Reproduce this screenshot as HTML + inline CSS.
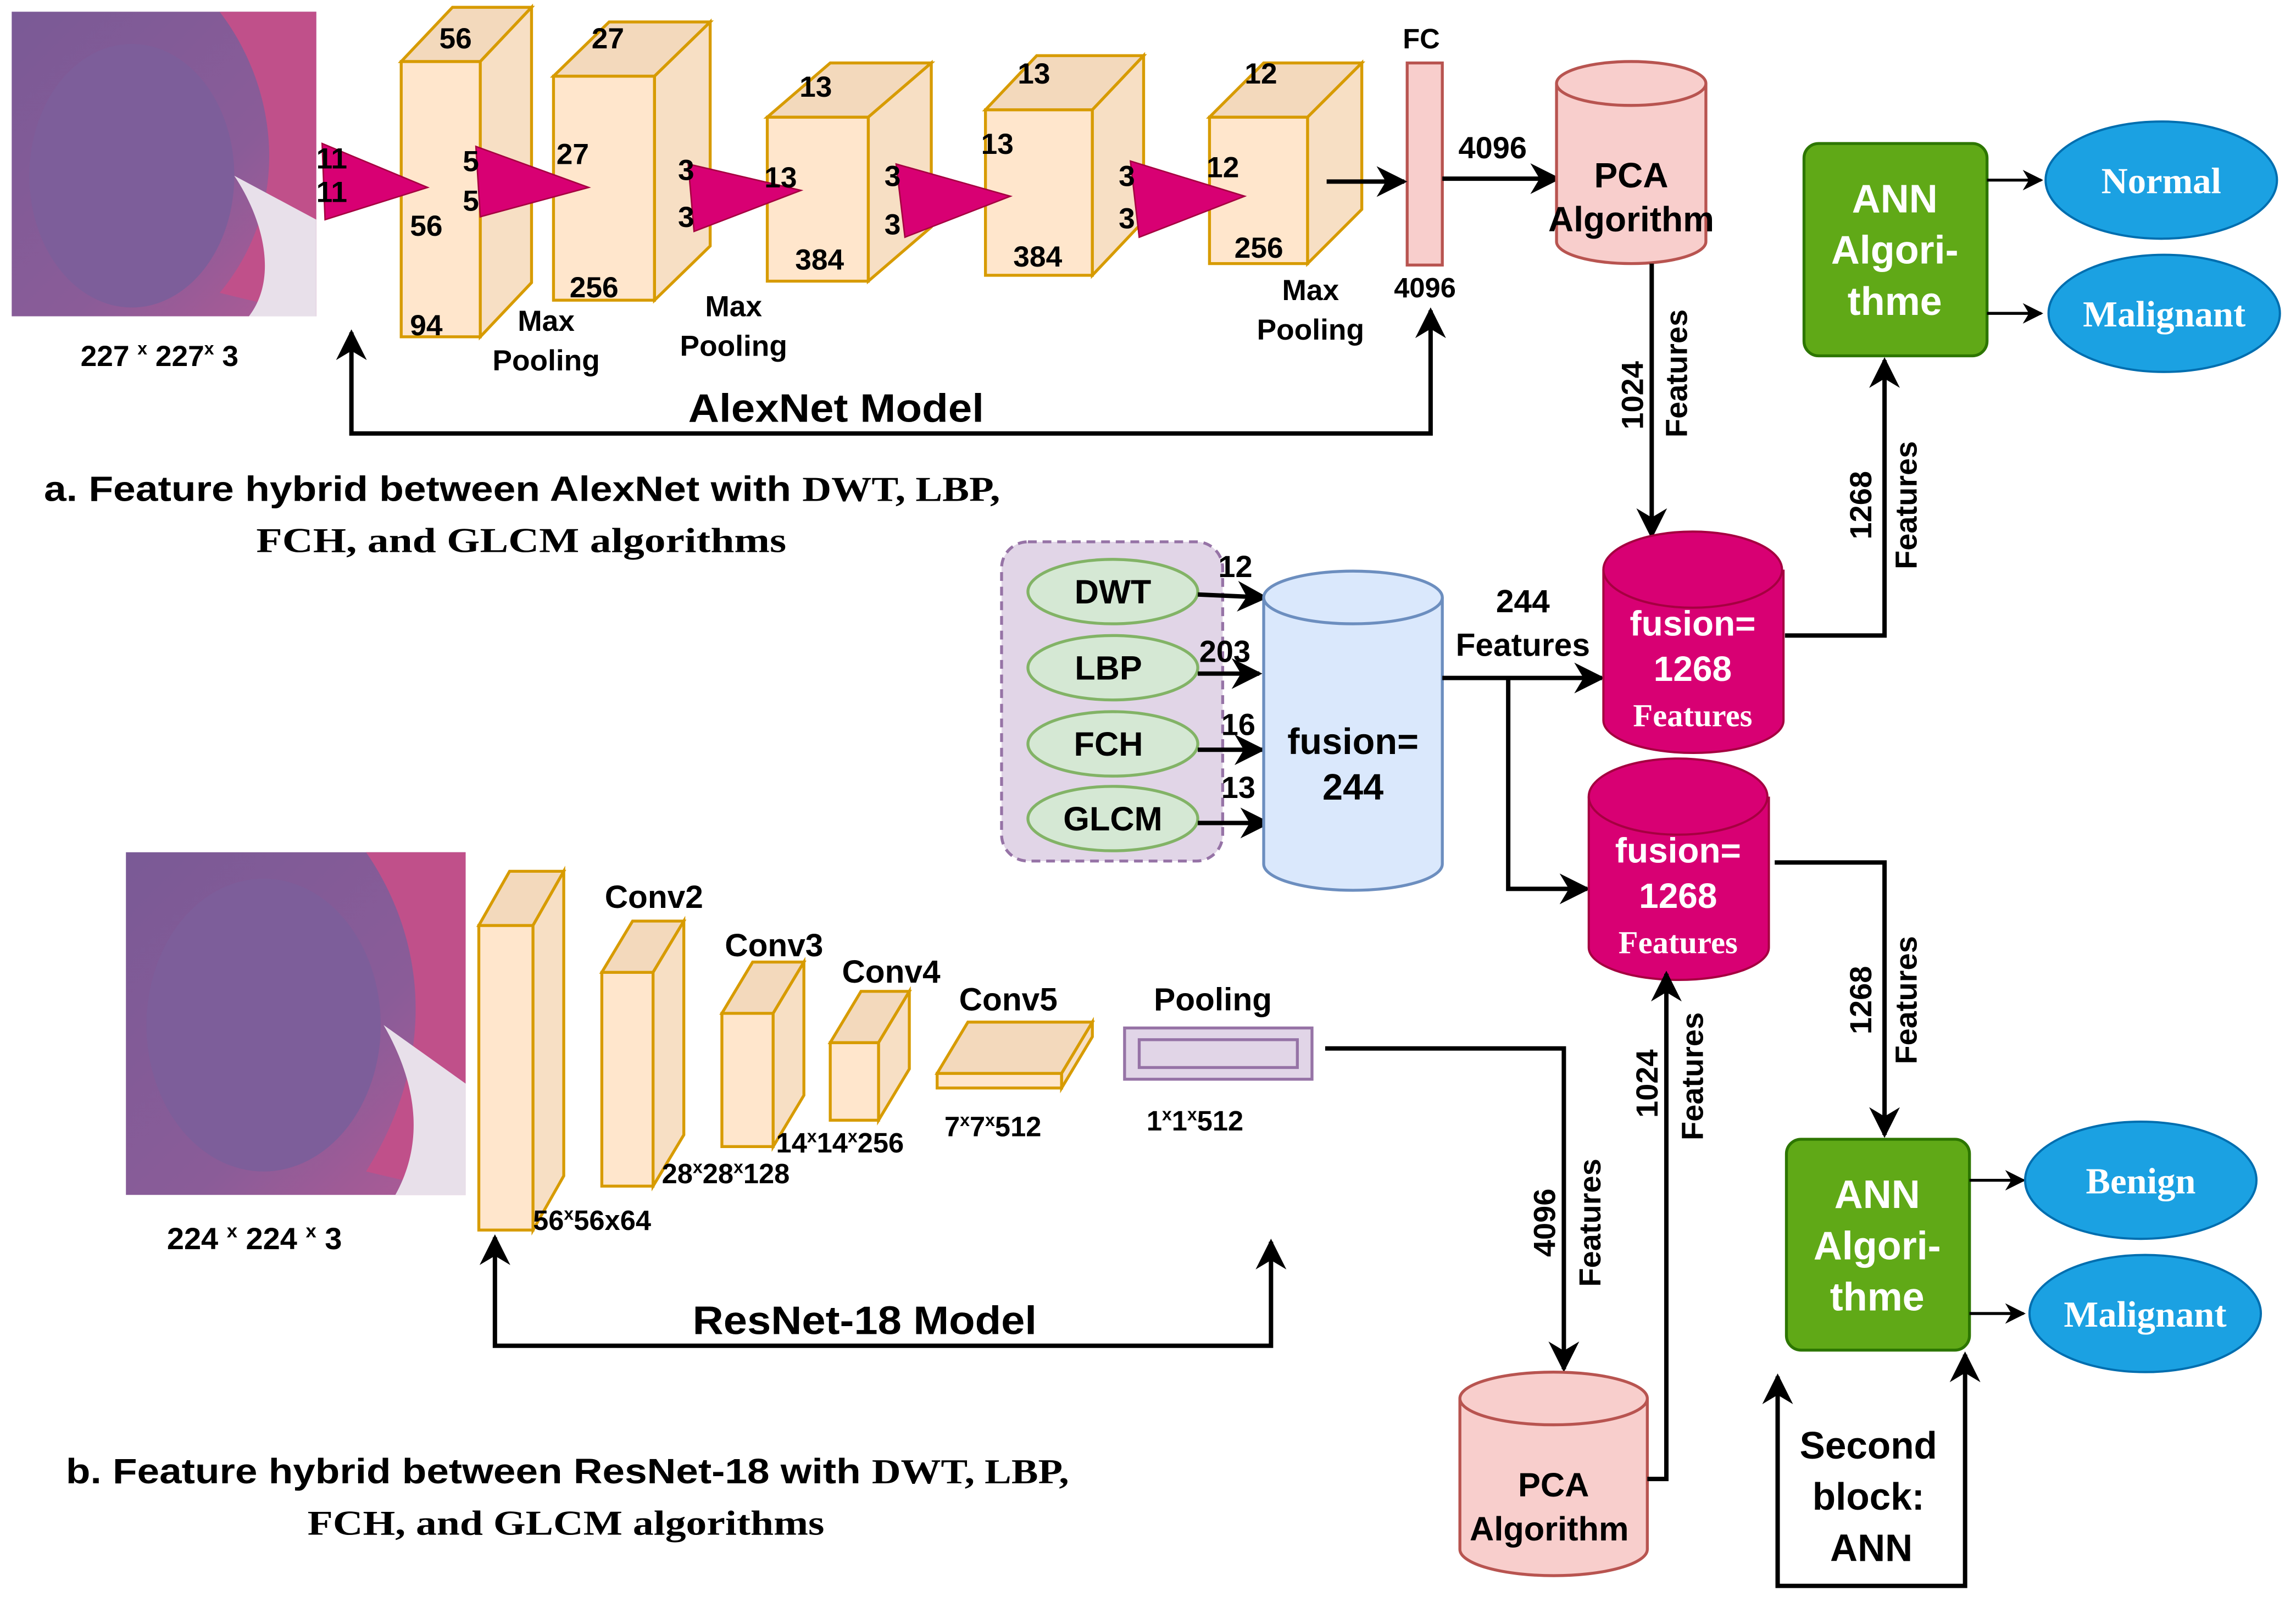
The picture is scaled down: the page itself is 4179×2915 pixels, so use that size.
<!DOCTYPE html>
<html><head><meta charset="utf-8"><style>
html,body{margin:0;padding:0;background:#fff;}
svg{display:block;}
text{font-family:"Liberation Sans",sans-serif;font-weight:bold;}
.s{font-family:"Liberation Serif",serif;}
</style></head><body>
<svg width="4179" height="2915" viewBox="0 0 1568 1094" preserveAspectRatio="none" xmlns="http://www.w3.org/2000/svg">
<defs>
<marker id="a" viewBox="0 0 10 10" refX="9" refY="5" markerWidth="7" markerHeight="7" orient="auto-start-reverse"><path d="M0,0 L10,5 L0,10 L3,5 Z" fill="#000"/></marker>
<linearGradient id="tis" x1="0" y1="0" x2="1" y2="1">
<stop offset="0" stop-color="#7a5a96"/><stop offset="0.6" stop-color="#8a5c98"/><stop offset="1" stop-color="#b25a95"/></linearGradient>
</defs>
<rect width="1568" height="1094" fill="#fff"/>

<!-- tissue image 1 -->
<g>
<rect x="8" y="8" width="208" height="208" fill="url(#tis)"/>
<path d="M150,8 C190,60 200,140 150,200 L216,216 L216,8 Z" fill="#c0508a"/>
<path d="M160,120 C180,150 190,190 170,216 L216,216 L216,150 Z" fill="#e8e0ea"/>
<ellipse cx="90" cy="120" rx="70" ry="90" fill="#7d5e9a"/>
</g>
<text x="55" y="250" font-size="20">227 <tspan font-size="12" dy="-8">x</tspan><tspan dy="8"> 227</tspan><tspan font-size="12" dy="-8">x</tspan><tspan dy="8"> 3</tspan></text>

<!-- alexnet boxes -->
<g fill="#ffe6cc" stroke="#d79b00" stroke-width="2">
<rect x="274" y="42" width="54" height="188"/><path d="M274,42 L309,5 L363,5 L328,42Z" fill="#f3d9bc"/><path d="M328,42 L363,5 L363,193 L328,230Z" fill="#f7dfc4"/>
<rect x="378" y="52" width="69" height="153"/><path d="M378,52 L416,15 L485,15 L447,52Z" fill="#f3d9bc"/><path d="M447,52 L485,15 L485,168 L447,205Z" fill="#f7dfc4"/>
<rect x="524" y="80" width="69" height="112"/><path d="M524,80 L567,43 L636,43 L593,80Z" fill="#f3d9bc"/><path d="M593,80 L636,43 L636,155 L593,192Z" fill="#f7dfc4"/>
<rect x="673" y="75" width="73" height="113"/><path d="M673,75 L708,38 L781,38 L746,75Z" fill="#f3d9bc"/><path d="M746,75 L781,38 L781,151 L746,188Z" fill="#f7dfc4"/>
<rect x="826" y="80" width="67" height="100"/><path d="M826,80 L863,43 L930,43 L893,80Z" fill="#f3d9bc"/><path d="M893,80 L930,43 L930,143 L893,180Z" fill="#f7dfc4"/>
</g>
<g fill="#d80073" stroke="#a50040" stroke-width="1">
<path d="M220,98 L222,150 L292,128Z"/><path d="M325,100 L328,148 L402,128Z"/><path d="M470,112 L474,158 L547,130Z"/><path d="M612,112 L618,162 L690,134Z"/><path d="M772,110 L778,162 L850,134Z"/>
</g>
<g font-size="20">
<text x="300" y="33">56</text><text x="404" y="33">27</text><text x="546" y="66">13</text><text x="695" y="57">13</text><text x="850" y="57">12</text>
<text x="216" y="115">11</text><text x="216" y="138">11</text><text x="316" y="117">5</text><text x="316" y="144">5</text>
<text x="380" y="112">27</text><text x="463" y="123">3</text><text x="463" y="155">3</text><text x="522" y="128">13</text>
<text x="604" y="127">3</text><text x="604" y="160">3</text><text x="670" y="105">13</text><text x="764" y="127">3</text><text x="764" y="156">3</text><text x="824" y="121">12</text>
<text x="280" y="161">56</text><text x="280" y="229">94</text><text x="389" y="203">256</text><text x="543" y="184">384</text><text x="692" y="182">384</text><text x="843" y="176">256</text>
</g>
<g font-size="20" text-anchor="middle">
<text x="373" y="226">Max</text><text x="373" y="253">Pooling</text>
<text x="501" y="216">Max</text><text x="501" y="243">Pooling</text>
<text x="895" y="205">Max</text><text x="895" y="232">Pooling</text>
</g>
<rect x="961" y="43" width="24" height="138" fill="#f8cecc" stroke="#b85450" stroke-width="2"/>
<text x="958" y="33" font-size="19">FC</text>
<text x="952" y="203" font-size="19">4096</text>
<line x1="906" y1="124" x2="959" y2="124" stroke="#000" stroke-width="3" marker-end="url(#a)"/>
<line x1="985" y1="122" x2="1064" y2="122" stroke="#000" stroke-width="3" marker-end="url(#a)"/>
<text x="996" y="108" font-size="21">4096</text>
<path d="M240,227 L240,296 L977,296 L977,212" fill="none" stroke="#000" stroke-width="3" marker-start="url(#a)" marker-end="url(#a)"/>
<text x="470" y="288" font-size="27" textLength="202" lengthAdjust="spacingAndGlyphs">AlexNet Model</text>
<text x="30" y="342" font-size="24" textLength="653" lengthAdjust="spacingAndGlyphs">a. Feature hybrid between AlexNet with <tspan class="s">DWT, LBP,</tspan></text>
<text x="175" y="377" font-size="24" class="s" textLength="362" lengthAdjust="spacingAndGlyphs">FCH, and GLCM  algorithms</text>

<!-- PCA top -->
<path d="M1063,57 L1063,165 A51,15 0 0 0 1165,165 L1165,57" fill="#f8cecc" stroke="#b85450" stroke-width="2"/>
<ellipse cx="1114" cy="57" rx="51" ry="15" fill="#f8cecc" stroke="#b85450" stroke-width="2"/>
<text x="1114" y="128" font-size="24" text-anchor="middle">PCA</text>
<text x="1114" y="158" font-size="24" text-anchor="middle">Algorithm</text>
<line x1="1128" y1="180" x2="1128" y2="366" stroke="#000" stroke-width="3" marker-end="url(#a)"/>
<text font-size="21" transform="translate(1122,270) rotate(-90)" text-anchor="middle">1024</text>
<text font-size="21" transform="translate(1152,255) rotate(-90)" text-anchor="middle">Features</text>

<!-- ANN top -->
<rect x="1232" y="98" width="125" height="145" rx="10" fill="#60a917" stroke="#2d7600" stroke-width="2"/>
<g fill="#fff" font-size="27" text-anchor="middle"><text x="1294" y="145">ANN</text><text x="1294" y="180">Algori-</text><text x="1294" y="215">thme</text></g>
<line x1="1357" y1="123" x2="1394" y2="123" stroke="#000" stroke-width="2" marker-end="url(#a)"/>
<line x1="1357" y1="214" x2="1394" y2="214" stroke="#000" stroke-width="2" marker-end="url(#a)"/>
<ellipse cx="1476" cy="123" rx="79" ry="40" fill="#1ba1e2" stroke="#006eaf" stroke-width="1.5"/>
<ellipse cx="1478" cy="214" rx="79" ry="40" fill="#1ba1e2" stroke="#006eaf" stroke-width="1.5"/>
<text x="1476" y="132" font-size="25" fill="#fff" class="s" text-anchor="middle">Normal</text>
<text x="1478" y="223" font-size="25" fill="#fff" class="s" text-anchor="middle">Malignant</text>
<path d="M1219,434 L1287,434 L1287,246" fill="none" stroke="#000" stroke-width="3" marker-end="url(#a)"/>
<text font-size="21" transform="translate(1278,345) rotate(-90)" text-anchor="middle">1268</text>
<text font-size="21" transform="translate(1309,345) rotate(-90)" text-anchor="middle">Features</text>

<!-- group -->
<rect x="684" y="370" width="151" height="218" rx="18" fill="#e1d5e7" stroke="#9673a6" stroke-width="2" stroke-dasharray="6,4"/>
<g fill="#d5e8d4" stroke="#82b366" stroke-width="2">
<ellipse cx="760" cy="404" rx="58" ry="22"/><ellipse cx="760" cy="456" rx="58" ry="22"/><ellipse cx="760" cy="508" rx="58" ry="22"/><ellipse cx="760" cy="559" rx="58" ry="22"/>
</g>
<g font-size="23" text-anchor="middle"><text x="760" y="412">DWT</text><text x="757" y="464">LBP</text><text x="757" y="516">FCH</text><text x="760" y="567">GLCM</text></g>
<g stroke="#000" stroke-width="3">
<line x1="818" y1="406" x2="864" y2="408" marker-end="url(#a)"/><line x1="818" y1="460" x2="860" y2="460" marker-end="url(#a)"/>
<line x1="818" y1="512" x2="862" y2="512" marker-end="url(#a)"/><line x1="818" y1="562" x2="866" y2="562" marker-end="url(#a)"/>
</g>
<g font-size="21"><text x="832" y="394">12</text><text x="819" y="452">203</text><text x="834" y="502">16</text><text x="834" y="545">13</text></g>
<!-- blue cylinder -->
<path d="M863,408 L863,590 A61,18 0 0 0 985,590 L985,408" fill="#dae8fc" stroke="#6c8ebf" stroke-width="2"/>
<ellipse cx="924" cy="408" rx="61" ry="18" fill="#dae8fc" stroke="#6c8ebf" stroke-width="2"/>
<text x="924" y="515" font-size="25" text-anchor="middle">fusion=</text><text x="924" y="546" font-size="25" text-anchor="middle">244</text>
<line x1="985" y1="463" x2="1094" y2="463" stroke="#000" stroke-width="3" marker-end="url(#a)"/>
<path d="M1030,463 L1030,607 L1084,607" fill="none" stroke="#000" stroke-width="3" marker-end="url(#a)"/>
<text x="1040" y="418" font-size="22" text-anchor="middle">244</text>
<text x="1040" y="448" font-size="22" text-anchor="middle">Features</text>
<!-- fusion cylinders -->
<path d="M1095,389 L1095,492 A61,22 0 0 0 1218,492 L1218,389" fill="#d80073" stroke="#a50040" stroke-width="1.5"/>
<ellipse cx="1156" cy="389" rx="61" ry="26" fill="#d80073" stroke="#a50040" stroke-width="1.5"/>
<g fill="#fff" text-anchor="middle"><text x="1156" y="434" font-size="24">fusion=</text><text x="1156" y="465" font-size="24">1268</text><text x="1156" y="496" font-size="22" class="s">Features</text></g>
<path d="M1085,544 L1085,647 A61,22 0 0 0 1208,647 L1208,544" fill="#d80073" stroke="#a50040" stroke-width="1.5"/>
<ellipse cx="1146" cy="544" rx="61" ry="26" fill="#d80073" stroke="#a50040" stroke-width="1.5"/>
<g fill="#fff" text-anchor="middle"><text x="1146" y="589" font-size="24">fusion=</text><text x="1146" y="620" font-size="24">1268</text><text x="1146" y="651" font-size="22" class="s">Features</text></g>
<path d="M1212,589 L1287,589 L1287,775" fill="none" stroke="#000" stroke-width="3" marker-end="url(#a)"/>
<text font-size="21" transform="translate(1278,683) rotate(-90)" text-anchor="middle">1268</text>
<text font-size="21" transform="translate(1309,683) rotate(-90)" text-anchor="middle">Features</text>

<!-- ANN bottom -->
<rect x="1220" y="778" width="125" height="144" rx="10" fill="#60a917" stroke="#2d7600" stroke-width="2"/>
<g fill="#fff" font-size="27" text-anchor="middle"><text x="1282" y="825">ANN</text><text x="1282" y="860">Algori-</text><text x="1282" y="895">thme</text></g>
<line x1="1345" y1="806" x2="1382" y2="806" stroke="#000" stroke-width="2" marker-end="url(#a)"/>
<line x1="1345" y1="897" x2="1382" y2="897" stroke="#000" stroke-width="2" marker-end="url(#a)"/>
<ellipse cx="1462" cy="806" rx="79" ry="40" fill="#1ba1e2" stroke="#006eaf" stroke-width="1.5"/>
<ellipse cx="1465" cy="897" rx="79" ry="40" fill="#1ba1e2" stroke="#006eaf" stroke-width="1.5"/>
<text x="1462" y="815" font-size="25" fill="#fff" class="s" text-anchor="middle">Benign</text>
<text x="1465" y="906" font-size="25" fill="#fff" class="s" text-anchor="middle">Malignant</text>
<path d="M1214,940 L1214,1083 L1342,1083 L1342,925" fill="none" stroke="#000" stroke-width="3" marker-start="url(#a)" marker-end="url(#a)"/>
<g font-size="26" text-anchor="middle"><text x="1276" y="996">Second</text><text x="1276" y="1031">block:</text><text x="1278" y="1066">ANN</text></g>

<!-- resnet -->
<g>
<rect x="86" y="582" width="232" height="234" fill="url(#tis)"/>
<path d="M250,582 C290,640 300,720 250,800 L318,816 L318,582 Z" fill="#c0508a"/>
<path d="M262,700 C285,740 290,780 270,816 L318,816 L318,740 Z" fill="#e8e0ea"/>
<ellipse cx="180" cy="700" rx="80" ry="100" fill="#7d5e9a"/>
</g>
<text x="114" y="853" font-size="21">224 <tspan font-size="13" dy="-8">x</tspan><tspan dy="8"> 224 </tspan><tspan font-size="13" dy="-8">x</tspan><tspan dy="8"> 3</tspan></text>
<g fill="#ffe6cc" stroke="#d79b00" stroke-width="2">
<rect x="327" y="632" width="37" height="208"/><path d="M327,632 L348,595 L385,595 L364,632Z" fill="#f3d9bc"/><path d="M364,632 L385,595 L385,803 L364,840Z" fill="#f7dfc4"/>
<rect x="411" y="664" width="35" height="146"/><path d="M411,664 L432,629 L467,629 L446,664Z" fill="#f3d9bc"/><path d="M446,664 L467,629 L467,775 L446,810Z" fill="#f7dfc4"/>
<rect x="493" y="692" width="35" height="91"/><path d="M493,692 L514,657 L549,657 L528,692Z" fill="#f3d9bc"/><path d="M528,692 L549,657 L549,748 L528,783Z" fill="#f7dfc4"/>
<rect x="567" y="712" width="33" height="53"/><path d="M567,712 L588,677 L621,677 L600,712Z" fill="#f3d9bc"/><path d="M600,712 L621,677 L621,730 L600,765Z" fill="#f7dfc4"/>
<rect x="640" y="733" width="85" height="10"/><path d="M640,733 L661,698 L746,698 L725,733Z" fill="#f3d9bc"/><path d="M725,733 L746,698 L746,708 L725,743Z" fill="#f7dfc4"/>
</g>
<g font-size="22"><text x="413" y="620">Conv2</text><text x="495" y="653">Conv3</text><text x="575" y="671">Conv4</text><text x="655" y="690">Conv5</text><text x="788" y="690">Pooling</text></g>
<rect x="768" y="702" width="128" height="35" fill="#e1d5e7" stroke="#9673a6" stroke-width="2"/>
<rect x="778" y="710" width="108" height="19" fill="none" stroke="#9673a6" stroke-width="2"/>
<g font-size="19">
<text x="364" y="840">56<tspan font-size="12" dy="-7">x</tspan><tspan dy="7">56x64</tspan></text>
<text x="452" y="808">28<tspan font-size="12" dy="-7">x</tspan><tspan dy="7">28</tspan><tspan font-size="12" dy="-7">x</tspan><tspan dy="7">128</tspan></text>
<text x="530" y="787">14<tspan font-size="12" dy="-7">x</tspan><tspan dy="7">14</tspan><tspan font-size="12" dy="-7">x</tspan><tspan dy="7">256</tspan></text>
<text x="645" y="776">7<tspan font-size="12" dy="-7">x</tspan><tspan dy="7">7</tspan><tspan font-size="12" dy="-7">x</tspan><tspan dy="7">512</tspan></text>
<text x="783" y="772">1<tspan font-size="12" dy="-7">x</tspan><tspan dy="7">1</tspan><tspan font-size="12" dy="-7">x</tspan><tspan dy="7">512</tspan></text>
</g>
<path d="M338,845 L338,919 L868,919 L868,848" fill="none" stroke="#000" stroke-width="3" marker-start="url(#a)" marker-end="url(#a)"/>
<text x="473" y="911" font-size="27" textLength="235" lengthAdjust="spacingAndGlyphs">ResNet-18 Model</text>
<text x="45" y="1013" font-size="24" textLength="685" lengthAdjust="spacingAndGlyphs">b. Feature hybrid between ResNet-18 with <tspan class="s">DWT, LBP,</tspan></text>
<text x="210" y="1048" font-size="24" class="s" textLength="353" lengthAdjust="spacingAndGlyphs">FCH, and GLCM algorithms</text>
<path d="M905,716 L1068,716 L1068,935" fill="none" stroke="#000" stroke-width="3" marker-end="url(#a)"/>
<text font-size="21" transform="translate(1062,835) rotate(-90)" text-anchor="middle">4096</text>
<text font-size="21" transform="translate(1093,835) rotate(-90)" text-anchor="middle">Features</text>
<!-- PCA bottom -->
<path d="M997,955 L997,1058 A64,18 0 0 0 1125,1058 L1125,955" fill="#f8cecc" stroke="#b85450" stroke-width="2"/>
<ellipse cx="1061" cy="955" rx="64" ry="18" fill="#f8cecc" stroke="#b85450" stroke-width="2"/>
<text x="1061" y="1022" font-size="23" text-anchor="middle">PCA</text>
<text x="1058" y="1052" font-size="23" text-anchor="middle">Algorithm</text>
<path d="M1125,1010 L1138,1010 L1138,665" fill="none" stroke="#000" stroke-width="3" marker-end="url(#a)"/>
<text font-size="21" transform="translate(1132,740) rotate(-90)" text-anchor="middle">1024</text>
<text font-size="21" transform="translate(1163,735) rotate(-90)" text-anchor="middle">Features</text>
</svg>
</body></html>
